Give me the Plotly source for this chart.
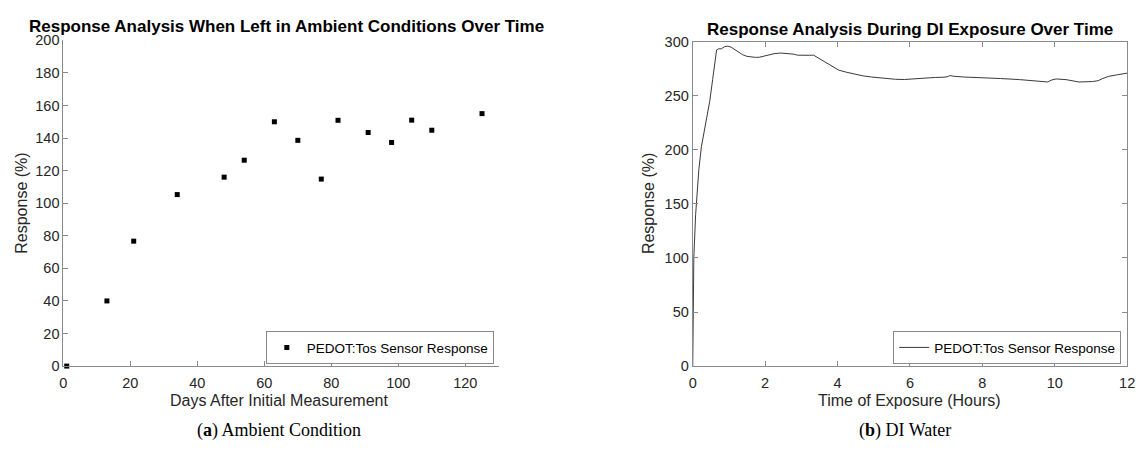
import plotly.graph_objects as go

# ---------------- data ----------------
days = [1, 13, 21, 34, 48, 54, 63, 70, 77, 82, 91, 98, 104, 110, 125]
ambient_response = [0, 40, 76.7, 105.3, 116, 126.4, 150, 138.6, 114.8, 150.9, 143.4, 137.3, 151, 144.8, 155]

hours = [0, 0.03, 0.08, 0.11, 0.17, 0.24, 0.32, 0.40, 0.47, 0.55, 0.61, 0.66, 0.72, 0.79, 0.88,
         0.97, 1.06, 1.16, 1.27, 1.38, 1.5, 1.61, 1.73, 1.84, 1.95, 2.07, 2.25, 2.43, 2.6, 2.7,
         2.8, 2.89, 3.0, 3.12, 3.23, 3.34, 3.43, 3.52, 3.66, 3.8, 4.03, 4.25, 4.48, 4.7, 4.94,
         5.15, 5.39, 5.6, 5.85, 6.1, 6.4, 6.7, 6.94, 7.05, 7.1, 7.21, 7.49, 7.8, 8.12, 8.5,
         9.03, 9.4, 9.81, 9.9, 10.04, 10.31, 10.67, 11.04, 11.2, 11.31, 11.49, 11.7, 12.0]
di_response = [0, 100, 140, 155, 182, 203, 218, 232, 245, 265, 283, 292.5, 293.5, 293.5, 295.5,
               296, 295, 293, 290.5, 288, 286.5, 286, 285.6, 285.7, 286.6, 288, 289, 289.6, 289.4, 289.2,
               288.5, 287.6, 287.4, 287.2, 287.5, 287.6, 285.8, 283.6, 280.8, 278, 273.8, 271.8, 270, 268.5, 267.4,
               266.6, 265.9, 265.3, 265.1, 265.8, 266.6, 267, 267.2, 267.8, 268.8, 268.1, 267.4, 267.1, 266.7, 266,
               265, 264, 262.8, 264.5, 265.6, 265, 262.8, 263.2, 264, 265.8, 268, 269.3, 271]

legend_label = "PEDOT:Tos Sensor Response"
title_a = "Response Analysis When Left in Ambient Conditions Over Time"
title_b = "Response Analysis During DI Exposure Over Time"
xlabel_a = "Days After Initial Measurement"
xlabel_b = "Time of Exposure (Hours)"
ylabel = "Response (%)"
caption_a = "(<b>a</b>) Ambient Condition"
caption_b = "(<b>b</b>) DI Water"

# ---------------- layout geometry ----------------
W, H = 1148, 459
def px(x):
    return x / W
def py(y):
    return 1 - y / H

SANS = "Liberation Sans, Arial, Helvetica, sans-serif"
SERIF = "Liberation Serif, DejaVu Serif, serif"
TXT = "#262626"
AX = "#8a8a8a"

fig = go.Figure()
fig.add_trace(go.Scatter(
    x=days, y=ambient_response, mode="markers", name=legend_label,
    marker=dict(symbol="square", size=5, color="black"),
    xaxis="x", yaxis="y", legend="legend", cliponaxis=False))
fig.add_trace(go.Scatter(
    x=hours, y=di_response, mode="lines", name=legend_label,
    line=dict(color="#3a3a3a", width=1),
    xaxis="x2", yaxis="y2", legend="legend2"))

axis_common = dict(
    showgrid=False, zeroline=False, showline=True, linecolor=AX, linewidth=1,
    ticks="inside", ticklen=5, tickcolor=AX, tickwidth=1,
    tickfont=dict(family=SANS, size=14.5, color=TXT))

fig.update_layout(
    width=W, height=H, margin=dict(l=0, r=0, t=0, b=0),
    paper_bgcolor="white", plot_bgcolor="white",
    xaxis=dict(domain=[px(60), px(500)], range=[0, 130], tickvals=[0, 20, 40, 60, 80, 100, 120],
               anchor="y", ticklabelstandoff=4, **axis_common),
    yaxis=dict(domain=[py(371), py(33.5)], range=[0, 200], dtick=20, anchor="x", **axis_common),
    xaxis2=dict(domain=[px(696), px(1135)], range=[0, 12], dtick=2, anchor="y2", mirror="ticks",
                ticklabelstandoff=4, **axis_common),
    yaxis2=dict(domain=[py(371), py(35)], range=[0, 300], dtick=50, anchor="x2", mirror="ticks",
                **axis_common),
    legend=dict(x=px(495), y=py(369), xanchor="right", yanchor="bottom",
                bordercolor=AX, borderwidth=1, bgcolor="white", tracegroupgap=0,
                font=dict(family=SANS, size=13.5, color="black"), itemwidth=30),
    legend2=dict(x=px(1129), y=py(369), xanchor="right", yanchor="bottom",
                 bordercolor=AX, borderwidth=1, bgcolor="white", tracegroupgap=0,
                 font=dict(family=SANS, size=13.5, color="black"), itemwidth=30),
    showlegend=True,
)

ann = []
def add_text(text, x, y, size, family=SANS, color="black", angle=0):
    ann.append(dict(text=text, x=px(x), y=py(y), xref="paper", yref="paper",
                    xanchor="center", yanchor="middle", showarrow=False, textangle=angle,
                    font=dict(family=family, size=size, color=color)))

add_text("<b>" + title_a + "</b>", 285, 19, 17)
add_text("<b>" + title_b + "</b>", 915.5, 22, 17)
add_text(ylabel, 18, 202, 16, color=TXT, angle=-90)
add_text(ylabel, 652, 203, 16, color=TXT, angle=-90)
add_text(xlabel_a, 278, 407, 16, color=TXT)
add_text(xlabel_b, 915.5, 407, 16, color=TXT)
add_text(caption_a, 278, 438, 18, family=SERIF)
add_text(caption_b, 911, 438, 18, family=SERIF)
fig.update_layout(annotations=ann)

# remove the browser's default 8px body margin so the figure sits at the page origin
fig.write_html("out.html", config={"displayModeBar": False},
               post_script="document.body.style.margin='0px';")
